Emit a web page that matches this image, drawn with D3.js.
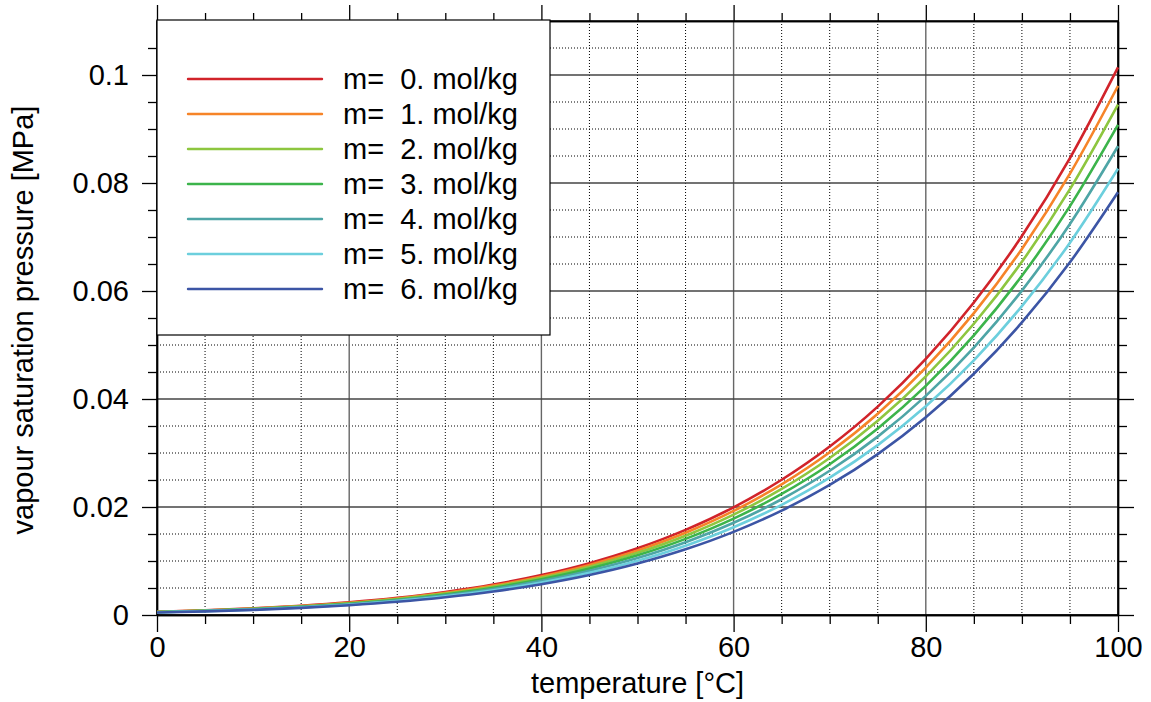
<!DOCTYPE html>
<html>
<head>
<meta charset="utf-8">
<script src="https://cdn.jsdelivr.net/npm/d3@7"></script>
<style>
  html, body { margin: 0; padding: 0; background: #fff; }
  svg { display: block; font-family: "Liberation Sans", Arial, Helvetica, sans-serif; }
  text { fill: #000; }
</style>
</head>
<body>
<svg id="chart" width="1151" height="702"></svg>
<script>
// ---------- data ----------
const temperature = [0,5,10,15,20,25,30,35,40,45,50,55,60,65,70,75,80,85,90,95,100];
const molalities = [0,1,2,3,4,5,6];
const seriesLabels = ["m=  0. mol/kg","m=  1. mol/kg","m=  2. mol/kg","m=  3. mol/kg","m=  4. mol/kg","m=  5. mol/kg","m=  6. mol/kg"];
const seriesColors = ["#d1232a","#f68428","#8dc63f","#3cb44b","#4ea5a6","#6ccfdd","#3c55a5"];
const p_m0 = [0.000611,0.000872,0.001228,0.001705,0.002339,0.003169,0.004246,0.005628,0.007384,0.009593,0.012349,0.015758,0.019946,0.025042,0.031201,0.038595,0.047414,0.057867,0.070182,0.084608,0.101418];
const p_m1 = [0.000590,0.000842,0.001186,0.001647,0.002259,0.003061,0.004102,0.005437,0.007133,0.009267,0.011929,0.015222,0.019268,0.024191,0.030140,0.037283,0.045802,0.055899,0.067796,0.081731,0.097970];
const p_m2 = [0.000569,0.000813,0.001144,0.001589,0.002180,0.002954,0.003957,0.005245,0.006882,0.008941,0.011509,0.014686,0.018590,0.023339,0.029079,0.035971,0.044190,0.053932,0.065410,0.078855,0.094522];
const p_m3 = [0.000547,0.000780,0.001099,0.001526,0.002093,0.002836,0.003800,0.005037,0.006609,0.008586,0.011052,0.014103,0.017852,0.022413,0.027925,0.034543,0.042436,0.051791,0.062813,0.075724,0.090769];
const p_m4 = [0.000523,0.000746,0.001051,0.001459,0.002002,0.002713,0.003635,0.004818,0.006321,0.008212,0.010571,0.013489,0.017074,0.021436,0.026708,0.033037,0.040586,0.049534,0.060076,0.072424,0.086814];
const p_m5 = [0.000498,0.000711,0.001001,0.001390,0.001906,0.002583,0.003460,0.004587,0.006018,0.007818,0.010064,0.012843,0.016256,0.020409,0.025429,0.031455,0.038642,0.047162,0.057198,0.068956,0.082656];
const p_m6 = [0.000472,0.000673,0.000948,0.001316,0.001806,0.002446,0.003278,0.004345,0.005700,0.007406,0.009533,0.012165,0.015398,0.019332,0.024087,0.029795,0.036604,0.044673,0.054181,0.065317,0.078295];
const seriesValues = [p_m0,p_m1,p_m2,p_m3,p_m4,p_m5,p_m6];

const xMajorTicks = [0,20,40,60,80,100];
const xTickLabels = ["0","20","40","60","80","100"];
const xMinorTicks = [5,10,15,25,30,35,45,50,55,65,70,75,85,90,95];
const yMajorTicks = [0,0.02,0.04,0.06,0.08,0.1];
const yTickLabels = ["0","0.02","0.04","0.06","0.08","0.1"];
const yMinorTicks = [0.005,0.01,0.015,0.025,0.03,0.035,0.045,0.05,0.055,0.065,0.07,0.075,0.085,0.09,0.095,0.105];
const xTitle = "temperature [°C]";
const yTitle = "vapour saturation pressure [MPa]";

// ---------- layout ----------
const L = 157, R = 1118, T = 21, B = 615;
const svg = d3.select("#chart");
const x = d3.scaleLinear().domain([0,100]).range([L, R]);
const y = d3.scaleLinear().domain([0,0.11]).range([B, T]);
const FS = 29;

// minor grid (dotted)
const grid = svg.append("g");
grid.selectAll(".vmin").data(xMinorTicks).enter().append("line")
  .attr("x1", d=>x(d)).attr("x2", d=>x(d)).attr("y1", T).attr("y2", B)
  .attr("stroke","#000").attr("stroke-width",1).attr("stroke-dasharray","1,2");
grid.selectAll(".hmin").data(yMinorTicks).enter().append("line")
  .attr("x1", L).attr("x2", R).attr("y1", d=>y(d)).attr("y2", d=>y(d))
  .attr("stroke","#000").attr("stroke-width",1).attr("stroke-dasharray","1,2");
// major grid (solid gray)
grid.selectAll(".vmaj").data(xMajorTicks).enter().append("line")
  .attr("x1", d=>x(d)).attr("x2", d=>x(d)).attr("y1", T).attr("y2", B)
  .attr("stroke","#666").attr("stroke-width",1.4);
grid.selectAll(".hmaj").data(yMajorTicks).enter().append("line")
  .attr("x1", L).attr("x2", R).attr("y1", d=>y(d)).attr("y2", d=>y(d))
  .attr("stroke","#444").attr("stroke-width",1.3);

// axes with outward ticks
function styleAxis(g){
  g.selectAll("path.domain").attr("stroke","#000").attr("stroke-width",1.4);
  g.selectAll(".tick line").attr("stroke","#000").attr("stroke-width",1.3);
  g.selectAll("text").attr("font-size",FS).attr("font-family",'"Liberation Sans", Arial, sans-serif').attr("fill","#000");
}
// bottom
svg.append("g").attr("transform",`translate(0,${B})`)
  .call(d3.axisBottom(x).tickValues(xMinorTicks).tickSize(9).tickSizeOuter(0).tickFormat(""))
  .call(styleAxis);
svg.append("g").attr("transform",`translate(0,${B})`)
  .call(d3.axisBottom(x).tickValues(xMajorTicks).tickSize(17).tickSizeOuter(0).tickPadding(4)
    .tickFormat((d,i)=>xTickLabels[i]))
  .call(styleAxis);
// top
svg.append("g").attr("transform",`translate(0,${T})`)
  .call(d3.axisTop(x).tickValues(xMinorTicks).tickSize(8).tickSizeOuter(0).tickFormat(""))
  .call(styleAxis);
svg.append("g").attr("transform",`translate(0,${T})`)
  .call(d3.axisTop(x).tickValues(xMajorTicks).tickSize(16).tickSizeOuter(0).tickFormat(""))
  .call(styleAxis);
// left
svg.append("g").attr("transform",`translate(${L},0)`)
  .call(d3.axisLeft(y).tickValues(yMinorTicks).tickSize(9).tickSizeOuter(0).tickFormat(""))
  .call(styleAxis);
svg.append("g").attr("transform",`translate(${L},0)`)
  .call(d3.axisLeft(y).tickValues(yMajorTicks).tickSize(15).tickSizeOuter(0).tickPadding(13)
    .tickFormat((d,i)=>yTickLabels[i]))
  .call(styleAxis);
// right
svg.append("g").attr("transform",`translate(${R},0)`)
  .call(d3.axisRight(y).tickValues(yMinorTicks).tickSize(9).tickSizeOuter(0).tickFormat(""))
  .call(styleAxis);
svg.append("g").attr("transform",`translate(${R},0)`)
  .call(d3.axisRight(y).tickValues(yMajorTicks).tickSize(16).tickSizeOuter(0).tickFormat(""))
  .call(styleAxis);

// frame
svg.append("rect").attr("x",L).attr("y",T).attr("width",R-L).attr("height",B-T)
  .attr("fill","none").attr("stroke","#000").attr("stroke-width",1.4);

// curves
const line = d3.line().x((d,i)=>x(temperature[i])).y(d=>y(d)).curve(d3.curveMonotoneX);
const plot = svg.append("g");
seriesValues.forEach((vals,k)=>{
  plot.append("path").datum(vals).attr("d",line)
    .attr("fill","none").attr("stroke",seriesColors[k]).attr("stroke-width",2.6)
    .attr("stroke-linejoin","round");
});

// legend
const LG = {x0: L, y0: T - 1, x1: 550, y1: 335};
const leg = svg.append("g");
leg.append("rect").attr("x",LG.x0).attr("y",LG.y0).attr("width",LG.x1-LG.x0).attr("height",LG.y1-LG.y0)
  .attr("fill","#fff").attr("stroke","#000").attr("stroke-width",1.2);
seriesLabels.forEach((lab,k)=>{
  const ly = 79 + k*35;
  leg.append("line").attr("x1",188).attr("x2",322).attr("y1",ly).attr("y2",ly)
    .attr("stroke",seriesColors[k]).attr("stroke-width",2.4).attr("stroke-linecap","round");
  leg.append("text").attr("x",343).attr("y",ly+10).attr("font-size",FS)
    .attr("xml:space","preserve").style("white-space","pre").text(lab);
});

// axis titles
svg.append("text").attr("x",(L+R)/2).attr("y",693).attr("text-anchor","middle")
  .attr("font-size",FS).text(xTitle);
svg.append("text").attr("transform",`translate(33,${(T+B)/2 + 2}) rotate(-90)`).attr("text-anchor","middle")
  .attr("font-size",FS).text(yTitle);
</script>
</body>
</html>
